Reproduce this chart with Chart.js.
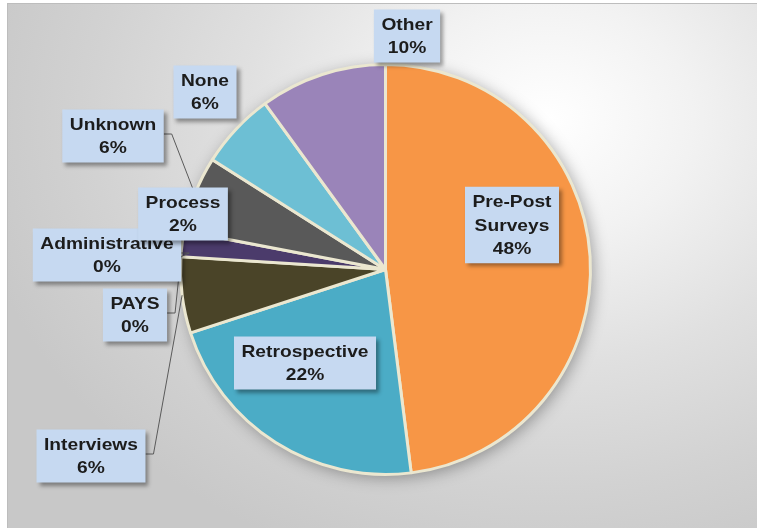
<!DOCTYPE html>
<html>
<head>
<meta charset="utf-8">
<title>Evaluation methods</title>
<script src="https://cdn.jsdelivr.net/npm/chart.js@4.4.1/dist/chart.umd.min.js"></script>
<style>
  html, body { margin: 0; padding: 0; background: #fff; }
  .frame {
    position: absolute; left: 7px; top: 3px; width: 750px; height: 525px;
    box-sizing: border-box;
    border-top: 1px solid #bdbdbd; border-left: 1px solid #bdbdbd;
    background: radial-gradient(ellipse 78% 90% at 72% 22%, #ffffff 0%, #f2f2f2 25%, #e0e0e0 52%, #d2d2d2 78%, #c8c8c8 100%);
  }
  #wrap { position: absolute; left: 0; top: 0; width: 757px; height: 528px; }
</style>
</head>
<body>
<div class="frame"></div>
<div id="wrap"><canvas id="chart" width="757" height="528"></canvas></div>
<script>
  const categories = ['Pre-Post\nSurveys', 'Retrospective', 'Interviews', 'PAYS', 'Administrative', 'Process', 'Unknown', 'None', 'Other'];
  const shares = [48, 22, 6, 0, 0, 2, 6, 6, 10];
  const sliceColors = ['#f79646', '#4bacc6', '#4a4428', '#c0504d', '#9bbb59', '#4b3b6b', '#595959', '#6dbfd4', '#9a84b9'];

  // label box centres (canvas px) and whether a leader line runs to the slice
  const labelLayout = [
    { cx: 512, cy: 225, leader: false },
    { cx: 305, cy: 363, leader: false },
    { cx: 91, cy: 456, leader: true },
    { cx: 135, cy: 315, leader: true },
    { cx: 107, cy: 255, leader: true },
    { cx: 183, cy: 214, leader: false },
    { cx: 113, cy: 136, leader: true },
    { cx: 205, cy: 92, leader: false },
    { cx: 407, cy: 36, leader: false },
  ];

  const style = {
    box: '#c6d9f1',
    text: '#1c1c1c',
    leader: '#5a5a5a',
    border: '#ebe7d0',
    font: 'bold 17px "Liberation Sans", Arial, sans-serif',
    stretch: 1.13,
    lineH: 23.5,
    padX: 7.5,
    padY: 3,
  };

  const total = shares.reduce((a, b) => a + b, 0);
  const pct = (v) => Math.round(v / total * 100) + '%';

  function boxFor(i, ctx) {
    const lines = categories[i].split('\n').concat(pct(shares[i]));
    ctx.font = style.font;
    const tw = Math.max(...lines.map((l) => ctx.measureText(l).width)) * style.stretch;
    const w = tw + style.padX * 2;
    const h = lines.length * style.lineH + style.padY * 2;
    const p = labelLayout[i];
    return { lines, x: p.cx - w / 2, y: p.cy - h / 2, w, h };
  }

  // soft drop shadow behind the whole pie
  const pieShadow = {
    id: 'pieShadow',
    beforeDatasetsDraw(chart) {
      const a = chart.getDatasetMeta(0).data[0];
      if (!a) return;
      const ctx = chart.ctx;
      ctx.save();
      ctx.shadowColor = 'rgba(0, 0, 0, 0.35)';
      ctx.shadowBlur = 16;
      ctx.shadowOffsetX = 3;
      ctx.shadowOffsetY = 3;
      ctx.fillStyle = style.border;
      ctx.beginPath();
      ctx.arc(a.x, a.y, a.outerRadius, 0, Math.PI * 2);
      ctx.fill();
      ctx.restore();
    },
  };

  const calloutPlugin = {
    id: 'callouts',
    afterDatasetsDraw(chart) {
      const ctx = chart.ctx;
      const arcs = chart.getDatasetMeta(0).data;
      const boxes = categories.map((_, i) => boxFor(i, ctx));

      // leader lines first so the boxes sit over them
      ctx.save();
      ctx.strokeStyle = style.leader;
      ctx.lineWidth = 1;
      boxes.forEach((b, i) => {
        if (!labelLayout[i].leader) return;
        const a = arcs[i];
        const mid = (a.startAngle + a.endAngle) / 2;
        const tx = a.x + Math.cos(mid) * a.outerRadius;
        const ty = a.y + Math.sin(mid) * a.outerRadius;
        const sx = b.x + b.w;
        const sy = labelLayout[i].cy - 2;
        ctx.beginPath();
        ctx.moveTo(sx, sy);
        ctx.lineTo(sx + 8, sy);
        ctx.lineTo(tx, ty);
        ctx.stroke();
      });
      ctx.restore();

      boxes.forEach((b) => {
        ctx.save();
        ctx.shadowColor = 'rgba(0, 0, 0, 0.38)';
        ctx.shadowBlur = 4;
        ctx.shadowOffsetX = 3;
        ctx.shadowOffsetY = 3;
        ctx.fillStyle = style.box;
        ctx.fillRect(b.x, b.y, b.w, b.h);
        ctx.restore();

        ctx.save();
        ctx.font = style.font;
        ctx.fillStyle = style.text;
        ctx.textAlign = 'center';
        ctx.textBaseline = 'middle';
        const cx = b.x + b.w / 2;
        b.lines.forEach((line, k) => {
          const ly = b.y + style.padY + style.lineH * (k + 0.5) + 1;
          ctx.save();
          ctx.translate(cx, ly);
          ctx.scale(style.stretch, 1);
          ctx.fillText(line, 0, 0);
          ctx.restore();
        });
        ctx.restore();
      });
    },
  };

  new Chart(document.getElementById('chart'), {
    type: 'pie',
    data: {
      labels: categories.map((c) => c.replace('\n', ' ')),
      datasets: [{
        data: shares,
        backgroundColor: sliceColors,
        borderColor: style.border,
        borderWidth: 3,
      }],
    },
    options: {
      responsive: false,
      animation: false,
      layout: { padding: { left: 178, right: 164, top: 63, bottom: 52 } },
      plugins: {
        legend: { display: false },
        tooltip: { enabled: false },
      },
    },
    plugins: [pieShadow, calloutPlugin],
  });
</script>
</body>
</html>
